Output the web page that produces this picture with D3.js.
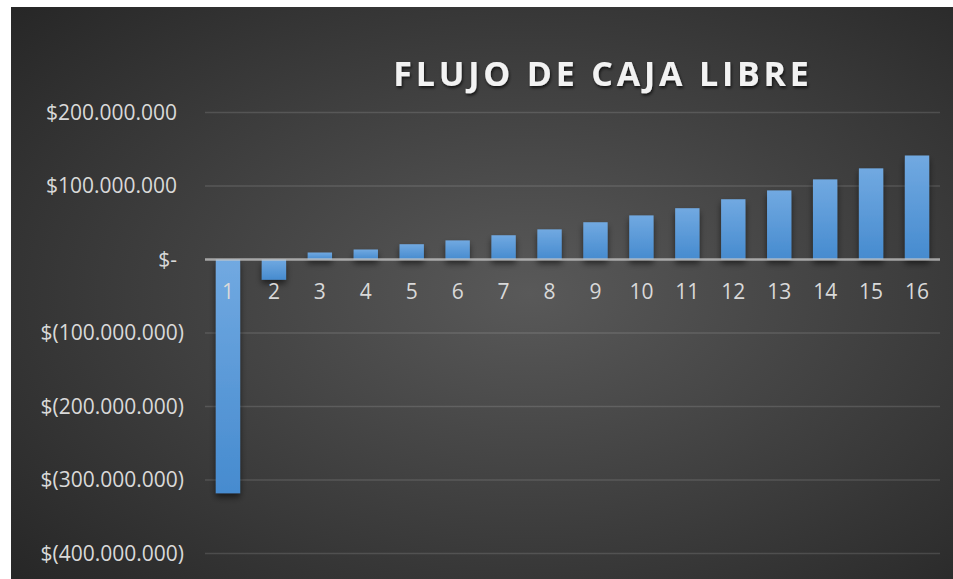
<!DOCTYPE html>
<html>
<head>
<meta charset="utf-8">
<script src="https://cdn.jsdelivr.net/npm/d3@7"></script>
<style>
  body { margin: 0; background: #fff; }
  svg { display: block; }
</style>
</head>
<body>
<svg id="chart" width="953" height="579"></svg>
<script>
// Periodos y flujo de caja libre
const periodos = ["1", "2", "3", "4", "5", "6", "7", "8", "9", "10", "11", "12", "13", "14", "15", "16"];
const flujo = [-318000000, -27600000, 9500000, 13600000, 20800000, 26000000, 33000000, 41000000,
               50700000, 60000000, 69800000, 82000000, 94000000, 109000000, 124000000, 141500000];
const yTicks = [200000000, 100000000, 0, -100000000, -200000000, -300000000, -400000000];
const titulo = "FLUJO DE CAJA LIBRE";

let svg = d3.select("#chart");
let defs = svg.append("defs");

// Fondo con degradado radial oscuro
let bg = defs.append("radialGradient").attr("id", "bgGrad")
    .attr("cx", "55%").attr("cy", "50%").attr("r", "75%");
bg.append("stop").attr("offset", "0%").attr("stop-color", "#595959");
bg.append("stop").attr("offset", "100%").attr("stop-color", "#262626");

// Degradado de las barras
let barGrad = defs.append("linearGradient").attr("id", "barGrad")
    .attr("x1", 0).attr("y1", 0).attr("x2", 0).attr("y2", 1);
barGrad.append("stop").attr("offset", "0%").attr("stop-color", "#71a9e1");
barGrad.append("stop").attr("offset", "100%").attr("stop-color", "#468bcf");

let shadow = defs.append("filter").attr("id", "shadow")
    .attr("x", "-30%").attr("y", "-30%").attr("width", "160%").attr("height", "160%");
shadow.append("feDropShadow").attr("dx", 0).attr("dy", 4).attr("stdDeviation", 3)
    .attr("flood-color", "#000").attr("flood-opacity", 0.55);

let txtShadow = defs.append("filter").attr("id", "txtShadow")
    .attr("x", "-10%").attr("y", "-30%").attr("width", "120%").attr("height", "160%");
txtShadow.append("feDropShadow").attr("dx", 1).attr("dy", 2).attr("stdDeviation", 1.5)
    .attr("flood-color", "#000").attr("flood-opacity", 0.7);

svg.append("rect")
    .attr("x", 11).attr("y", 7).attr("width", 942).attr("height", 572)
    .attr("fill", "url(#bgGrad)");

// Escalas
let x = d3.scaleBand()
    .domain(periodos)
    .range([205, 940])
    .paddingInner(0.47)
    .paddingOuter(0.235);

let y = d3.scaleLinear()
    .domain([-400000000, 200000000])
    .range([553.5, 112.5]);

// Formato contable: $200.000.000 / $(100.000.000) / $-
const fmtNum = v => d3.format(",")(Math.abs(v)).replace(/,/g, ".");
const fmtY = v => v === 0 ? "$-" : (v < 0 ? "$(" + fmtNum(v) + ")" : "$" + fmtNum(v));

// Líneas de cuadrícula
svg.append("g")
    .selectAll("line")
    .data(yTicks.filter(d => d !== 0))
    .enter().append("line")
    .attr("x1", 205).attr("x2", 940)
    .attr("y1", d => y(d)).attr("y2", d => y(d))
    .attr("stroke", "rgba(255,255,255,0.13)")
    .attr("stroke-width", 1.5);

// Eje Y
let yAxis = svg.append("g")
    .attr("transform", "translate(177,0)")
    .call(d3.axisLeft(y).tickValues(yTicks).tickFormat(fmtY).tickSize(0).tickPadding(0));
yAxis.select(".domain").remove();
yAxis.selectAll("text")
    .attr("fill", "#d9d9d9")
    .attr("dx", d => d < 0 ? 7 : 0)
    .style("font-family", "'Open Sans', sans-serif")
    .style("font-size", "21px");

// Barras
svg.append("g")
    .attr("filter", "url(#shadow)")
    .selectAll("rect")
    .data(flujo)
    .enter().append("rect")
    .attr("x", (d, i) => x(periodos[i]))
    .attr("width", x.bandwidth())
    .attr("y", d => y(Math.max(0, d)))
    .attr("height", d => Math.abs(y(d) - y(0)))
    .attr("fill", "url(#barGrad)");

// Línea de cero
svg.append("line")
    .attr("x1", 205).attr("x2", 940)
    .attr("y1", y(0)).attr("y2", y(0))
    .attr("stroke", "rgba(200,200,200,0.75)")
    .attr("stroke-width", 2.5);

// Etiquetas de categoría
let xAxis = svg.append("g")
    .attr("transform", `translate(0,${y(0)})`)
    .call(d3.axisBottom(x).tickSize(0).tickPadding(25));
xAxis.select(".domain").remove();
xAxis.selectAll("text")
    .attr("fill", "#d9d9d9")
    .style("font-family", "'Open Sans', sans-serif")
    .style("font-size", "21px");

// Título
svg.append("text")
    .attr("x", 603).attr("y", 86)
    .attr("text-anchor", "middle")
    .attr("fill", "#f2f2f2")
    .attr("filter", "url(#txtShadow)")
    .style("font-family", "'Open Sans', sans-serif")
    .style("font-weight", "bold")
    .style("font-size", "34px")
    .style("letter-spacing", "3.8px")
    .text(titulo);
</script>
</body>
</html>
